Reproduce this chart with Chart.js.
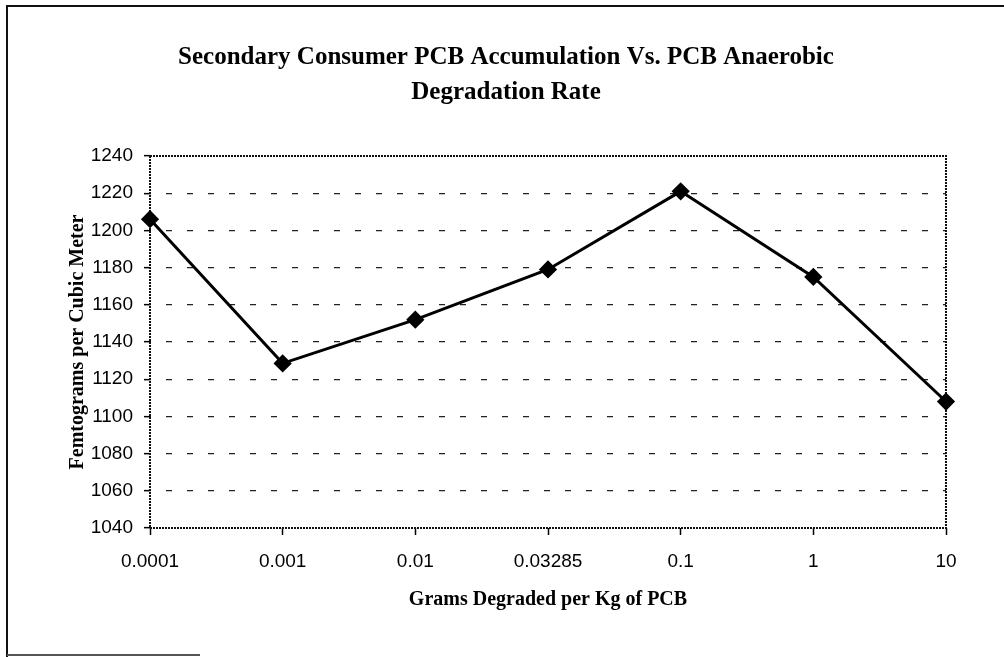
<!DOCTYPE html>
<html>
<head>
<meta charset="utf-8">
<title>Secondary Consumer PCB Accumulation</title>
<script src="https://cdn.jsdelivr.net/npm/chart.js@4.4.1/dist/chart.umd.min.js"></script>
<style>
  html, body { margin: 0; padding: 0; background: #fff; }
  canvas { display: block; }
</style>
</head>
<body>
<canvas id="chartPCB" width="1004" height="657"></canvas>
<script>
// degradation rates (g per kg of PCB) and accumulation (fg per m3)
const rates = ['0.0001', '0.001', '0.01', '0.03285', '0.1', '1', '10'];
const accumulation = [1206, 1128.5, 1152, 1179, 1221, 1175, 1108];
const yMin = 1040;
const yMax = 1240;
const yStep = 20;

// page frame + dotted plot border
const framePlugin = {
  id: 'frame',
  beforeDraw(chart) {
    const c = chart.ctx;
    c.save();
    c.fillStyle = '#fff';
    c.fillRect(0, 0, chart.width, chart.height);
    c.strokeStyle = '#111';
    c.lineWidth = 2;
    c.beginPath();
    c.moveTo(7, chart.height);
    c.lineTo(7, 6);
    c.lineTo(chart.width, 6);
    c.stroke();
    c.strokeStyle = '#555';
    c.beginPath();
    c.moveTo(7, 655);
    c.lineTo(200, 655);
    c.stroke();
    c.restore();
  },
  beforeDatasetsDraw(chart) {
    const a = chart.chartArea;
    const c = chart.ctx;
    c.save();
    c.strokeStyle = '#111';
    c.lineWidth = 2;
    c.setLineDash([2, 1]);
    c.strokeRect(a.left, a.top, a.right - a.left, a.bottom - a.top);
    c.restore();
  }
};

new Chart(document.getElementById('chartPCB'), {
  type: 'line',
  data: {
    labels: rates,
    datasets: [{
      label: 'Accumulation',
      data: accumulation,
      borderColor: '#000',
      backgroundColor: '#000',
      borderWidth: 3,
      tension: 0,
      pointStyle: 'rectRot',
      pointRadius: 7,
      pointBackgroundColor: '#000',
      pointBorderColor: '#000',
      clip: false
    }]
  },
  options: {
    responsive: false,
    animation: false,
    layout: {
      padding: { left: 66, right: 58, top: 0, bottom: 0 }
    },
    plugins: {
      legend: { display: false },
      tooltip: { enabled: false },
      title: {
        display: true,
        text: ['Secondary Consumer PCB Accumulation Vs. PCB Anaerobic', 'Degradation Rate'],
        color: '#000',
        font: { family: 'Liberation Serif', size: 25, weight: 'bold', lineHeight: 35 / 25 },
        padding: { top: 40, bottom: 46 }
      }
    },
    scales: {
      x: {
        offset: false,
        afterFit(scale) { scale.height = 129; },
        grid: {
          drawOnChartArea: false,
          drawTicks: true,
          tickLength: 7,
          tickColor: '#000',
          tickWidth: 1.5
        },
        border: { display: false },
        ticks: {
          color: '#000',
          padding: 15,
          maxRotation: 0,
          font: { family: 'Liberation Sans', size: 19 }
        },
        title: {
          display: true,
          text: 'Grams Degraded per Kg of PCB',
          color: '#000',
          font: { family: 'Liberation Serif', size: 20, weight: 'bold' },
          padding: { top: 18, bottom: 45 }
        }
      },
      y: {
        min: yMin,
        max: yMax,
        afterFit(scale) { scale.width = 84; },
        grid: {
          color: (ctx) => (ctx.tick && (ctx.tick.value === yMin || ctx.tick.value === yMax)) ? 'rgba(0,0,0,0)' : '#222',
          lineWidth: 1.3,
          tickColor: '#000',
          tickLength: 6,
          tickWidth: 1.5,
          tickBorderDash: []
        },
        border: { display: false, dash: [6, 15], dashOffset: -16 },
        ticks: {
          stepSize: yStep,
          color: '#000',
          padding: 11,
          callback: (value) => String(value),
          font: { family: 'Liberation Sans', size: 19 }
        },
        title: {
          display: true,
          text: 'Femtograms per Cubic Meter',
          color: '#000',
          font: { family: 'Liberation Serif', size: 20, weight: 'bold' },
          padding: { top: 0, bottom: 4 }
        }
      }
    }
  },
  plugins: [framePlugin]
});
</script>
</body>
</html>
